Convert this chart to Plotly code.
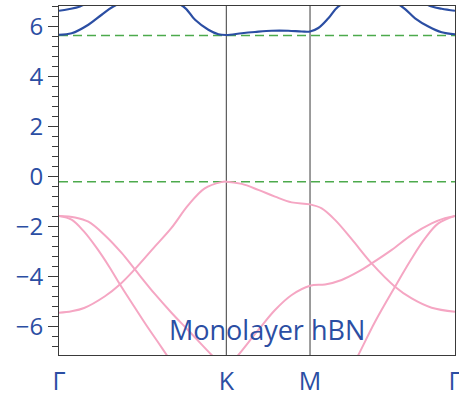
import plotly.graph_objects as go

# High-symmetry points along the path
sym_k = [0.0, 1.333, 2.0, 3.155]
sym_labels = ["Γ", "K", "M", "Γ"]

vbm = -0.2
cbm = 5.64

# Valence bands (pink)
pi_k = [0.0, 0.10, 0.20, 0.366, 0.485, 0.599, 0.763, 0.896, 1.028, 1.161, 1.293, 1.333,
        1.456, 1.588, 1.721, 1.854, 2.0,
        2.093, 2.199, 2.332, 2.491, 2.677, 2.810, 2.969, 3.155]
pi_e = [-5.44, -5.38, -5.25, -4.78, -4.31, -3.73, -2.80, -2.05, -1.15, -0.47, -0.22, -0.20,
        -0.29, -0.53, -0.80, -1.03, -1.11,
        -1.27, -1.73, -2.50, -3.47, -4.40, -4.87, -5.24, -5.40]

s1_k = [0.0, 0.127, 0.234, 0.367, 0.499, 0.600, 0.765, 0.898, 1.031, 1.216, 1.333,
        1.429, 1.588, 1.721, 1.854, 2.0,
        2.120, 2.252, 2.385, 2.491, 2.651, 2.810, 2.969, 3.075, 3.155]
s1_e = [-1.57, -1.63, -1.80, -2.35, -3.05, -3.68, -4.70, -5.45, -6.15, -7.13, -7.70,
        -7.13, -6.13, -5.33, -4.73, -4.36,
        -4.31, -4.13, -3.80, -3.47, -2.93, -2.33, -1.87, -1.66, -1.57]

s2_k = [0.0, 0.1, 0.2, 0.3, 0.4, 0.486, 0.6, 0.7, 0.8, 0.858, 1.0, 1.333,
        1.667, 2.0, 2.25, 2.385, 2.518, 2.677, 2.810, 2.916, 3.022, 3.155]
s2_e = [-1.57, -1.72, -2.20, -2.85, -3.60, -4.31, -5.20, -5.97, -6.70, -7.13, -8.2, -9.0,
        -9.5, -9.5, -8.4, -7.13, -5.80, -4.40, -3.27, -2.47, -1.87, -1.57]

# Conduction bands (blue)
c1_k = [0.0, 0.101, 0.234, 0.340, 0.433, 0.70, 0.991, 1.084, 1.190, 1.270, 1.333,
        1.456, 1.562, 1.695, 1.827, 1.934, 2.0,
        2.066, 2.146, 2.226, 2.48, 2.731, 2.837, 2.943, 3.049, 3.155]
c1_e = [5.67, 5.73, 6.07, 6.47, 6.80, 7.30, 6.80, 6.27, 5.87, 5.69, 5.66,
        5.73, 5.78, 5.83, 5.83, 5.80, 5.80,
        5.94, 6.33, 6.80, 7.40, 6.80, 6.33, 6.00, 5.77, 5.69]

c2l_k = [0.0, 0.074, 0.167, 0.30]
c2l_e = [6.63, 6.69, 6.80, 7.20]
c2r_k = [2.80, 2.970, 3.049, 3.155]
c2r_e = [7.20, 6.80, 6.71, 6.63]

title_text = "Monolayer hBN"

BLUE = "#2b4ea3"
PINK = "#f5a6c3"
GREEN = "#4caa4c"
AXC = "#3a3a3a"
FONT = "Open Sans"

fig = go.Figure()

for kk, ee in [(pi_k, pi_e), (s1_k, s1_e), (s2_k, s2_e)]:
    fig.add_trace(go.Scatter(x=kk, y=ee, mode="lines", line=dict(color=PINK, width=2, shape="spline", smoothing=1.0),
                             hoverinfo="skip", showlegend=False))
for kk, ee in [(c1_k, c1_e), (c2l_k, c2l_e), (c2r_k, c2r_e)]:
    fig.add_trace(go.Scatter(x=kk, y=ee, mode="lines", line=dict(color=BLUE, width=2.2, shape="spline", smoothing=1.0),
                             hoverinfo="skip", showlegend=False))

for lvl in [cbm, vbm]:
    fig.add_shape(type="line", xref="paper", x0=0, x1=1, yref="y", y0=lvl, y1=lvl,
                  line=dict(color=GREEN, width=1.5, dash="9px,5px"), layer="below")
for kx in sym_k[1:-1]:
    fig.add_shape(type="line", xref="x", x0=kx, x1=kx, yref="paper", y0=0, y1=1,
                  line=dict(color=AXC, width=1), layer="below")

fig.add_annotation(x=1.657, y=-6.1, xref="x", yref="y", text=title_text, showarrow=False,
                   font=dict(family=FONT, size=27, color=BLUE), xanchor="center", yanchor="middle")

fig.update_layout(
    width=459, height=396,
    margin=dict(l=59, r=4, t=6, b=41),
    plot_bgcolor="white", paper_bgcolor="white",
    font=dict(family=FONT, color=BLUE),
)
fig.update_xaxes(range=[sym_k[0], sym_k[-1]], tickmode="array", tickvals=sym_k, ticktext=sym_labels,
                 showgrid=False, zeroline=False, showline=True, mirror=True, linecolor=AXC, linewidth=1,
                 ticks="", ticklabelstandoff=4, ticklabeloverflow="allow",
                 tickfont=dict(family=FONT, size=25, color=BLUE), automargin=False)
fig.update_yaxes(range=[-7.13, 6.82], tick0=0, dtick=2, showgrid=False, zeroline=False,
                 showline=True, mirror=True, linecolor=AXC, linewidth=1,
                 ticks="outside", ticklen=10, tickcolor=AXC, tickwidth=1,
                 minor=dict(tick0=0, dtick=0.4, ticks="outside", ticklen=6, tickcolor=AXC, tickwidth=1, showgrid=False),
                 tickfont=dict(family=FONT, size=24, color=BLUE), automargin=False)

fig.write_html("out.html", config={"displayModeBar": False},
               post_script="document.body.style.margin='0';document.body.style.overflow='hidden';")
